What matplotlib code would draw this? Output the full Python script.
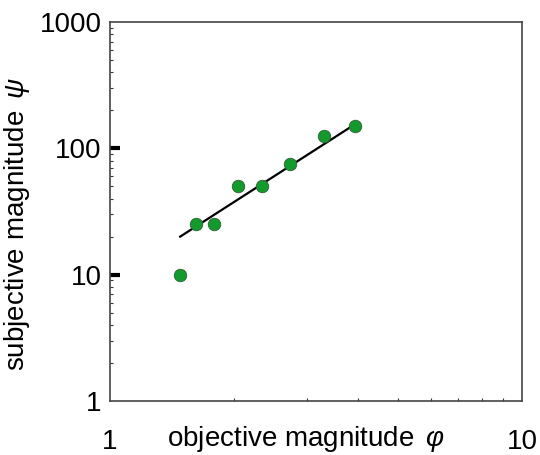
import numpy as np
import matplotlib
matplotlib.use("Agg")
import matplotlib.pyplot as plt
from matplotlib.ticker import LogLocator, NullFormatter

plt.rcParams['font.family'] = ['Liberation Sans', 'DejaVu Sans']
plt.rcParams['mathtext.fontset'] = 'custom'
plt.rcParams['mathtext.it'] = 'Liberation Sans:italic'
plt.rcParams['mathtext.rm'] = 'Liberation Sans'

# datos
phi = [1.48, 1.62, 1.79, 2.05, 2.34, 2.74, 3.30, 3.93]   # magnitud objetiva
psi = [10, 25, 25, 50, 50, 75, 125, 150]                 # magnitud subjetiva
fit_x = [1.48, 3.93]   # extremos de la recta ajustada
fit_y = [20, 155]
yticks = [1, 10, 100, 1000]
xticks = [1, 10]

fs = 20

fig = plt.figure(figsize=(5.4, 4.55), dpi=100)
ax = fig.add_axes([0.2037, 0.1187, 0.763, 0.8329])

ax.plot(fit_x, fit_y, color='black', lw=1.6, zorder=2)
ax.plot(phi, psi, 'o', color='#129a2c', markeredgecolor='#2f5f35',
        markeredgewidth=0.6, markersize=9, zorder=3)

ax.set_xscale('log')
ax.set_yscale('log')
ax.set_xlim(1, 10)
ax.set_ylim(1, 1000)

ax.set_xticks(xticks)
ax.set_xticklabels([str(v) for v in xticks])
ax.set_yticks(yticks)
ax.set_yticklabels([str(v) for v in yticks])
ax.xaxis.set_minor_locator(LogLocator(base=10, subs=np.arange(2, 10)))
ax.yaxis.set_minor_locator(LogLocator(base=10, subs=np.arange(2, 10)))
ax.xaxis.set_minor_formatter(NullFormatter())
ax.yaxis.set_minor_formatter(NullFormatter())

ax.tick_params(axis='x', which='major', length=0, pad=20, labelsize=fs)
ax.tick_params(axis='y', which='major', direction='in', length=7, width=3,
               pad=6, labelsize=fs, color='black')
ax.tick_params(which='minor', direction='in', length=2.5, width=0.8, color='#333333')

# sin marca en 1 y 1000
yt = ax.yaxis.get_major_ticks()
yt[0].tick1line.set_visible(False)
yt[-1].tick1line.set_visible(False)

for s in ax.spines.values():
    s.set_color('#444444')
    s.set_linewidth(1.2)

ax.set_xlabel(r'objective magnitude $\,\varphi$', fontsize=fs)
ax.xaxis.set_label_coords(0.475, -0.118)
ax.xaxis.label.set_va('baseline')
ax.set_ylabel(r'subjective magnitude $\,\psi$', fontsize=fs)
ax.yaxis.set_label_coords(-0.19, 0.467)

fig.savefig('out.png', dpi=100)
